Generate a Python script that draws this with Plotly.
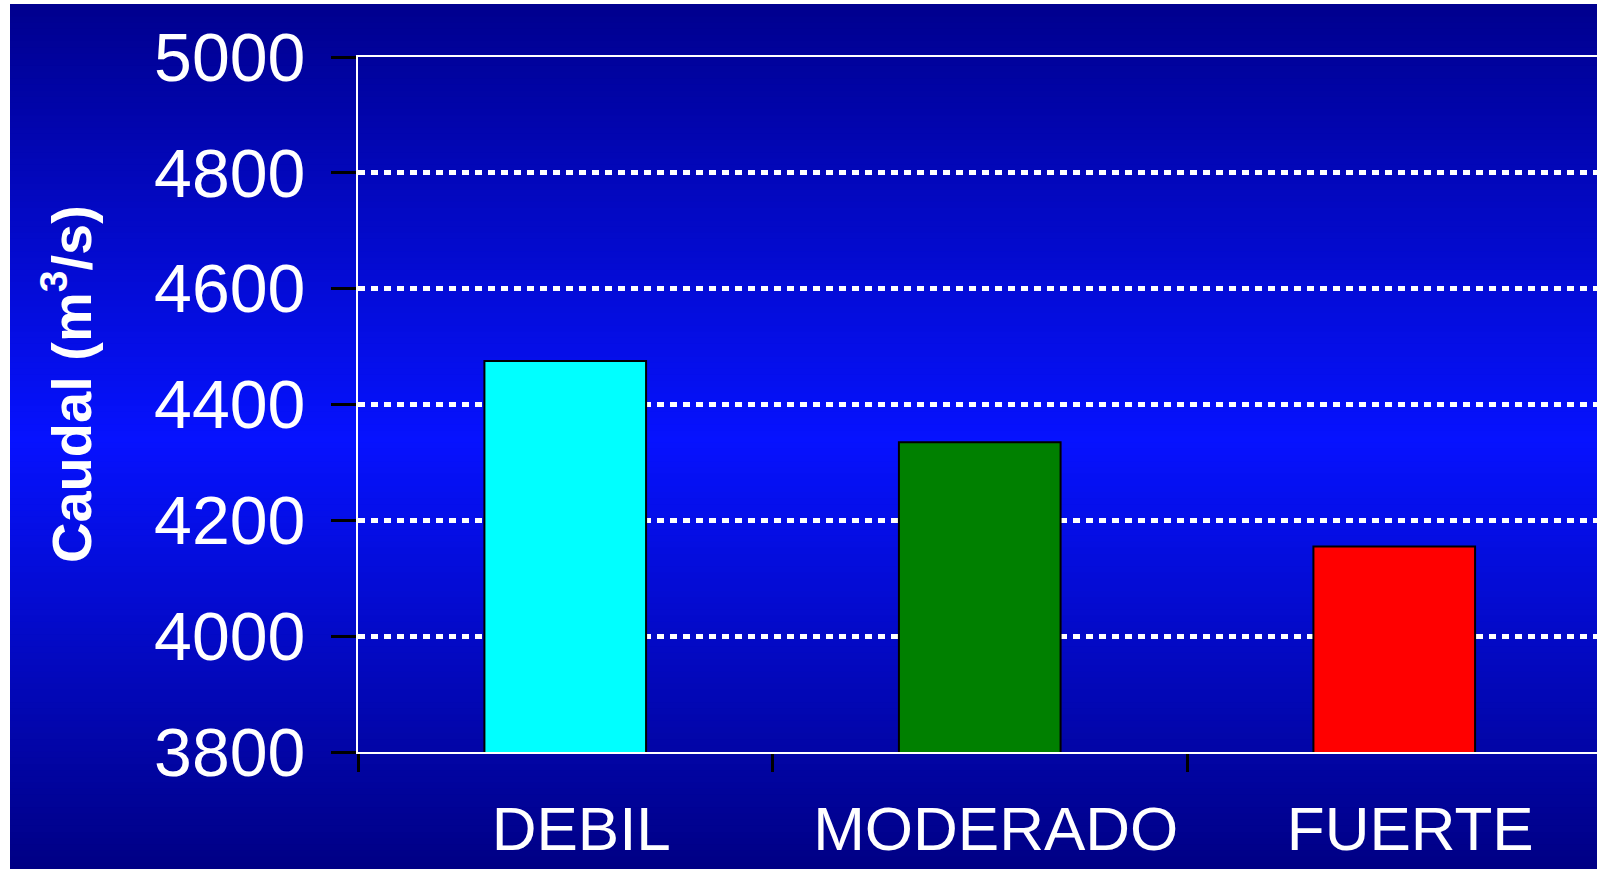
import plotly.graph_objects as go

# ---- data ----
categories = ["DEBIL", "MODERADO", "FUERTE"]
caudal = [4475, 4335, 4155]
bar_colors = ["#00FFFF", "#008000", "#FF0000"]
y_ticks = [3800, 4000, 4200, 4400, 4600, 4800, 5000]
y_title = "Caudal (m<sup>3</sup>/s)"

W, H = 1597, 869
L, R, T, B = 358, 0, 57, 117
PW, PH = W - L - R, H - T - B
FONT = "Arial, Liberation Sans, sans-serif"


def px2x(px):
    return (px - L) / PW


def px2y(py):
    return (H - B - py) / PH


def lerp(a, b, t):
    return tuple(round(a[i] + (b[i] - a[i]) * t) for i in range(3))


c_top, c_mid, c_bot = (0, 0, 142), (6, 18, 255), (0, 0, 132)
top_px, mid_px, bot_px = 4, 440, 869

shapes = []
n = 140
for i in range(n):
    y0 = top_px + (bot_px - top_px) * i / n
    y1 = top_px + (bot_px - top_px) * (i + 1) / n
    yc = (y0 + y1) / 2
    if yc < mid_px:
        col = lerp(c_top, c_mid, (yc - top_px) / (mid_px - top_px))
    else:
        col = lerp(c_mid, c_bot, (yc - mid_px) / (bot_px - mid_px))
    # each strip runs to the bottom so later strips cover without seams
    shapes.append(dict(
        type="rect", xref="paper", yref="paper", layer="below",
        x0=px2x(10), x1=px2x(W + 2), y0=px2y(bot_px + 2), y1=px2y(y0),
        fillcolor="rgb(%d,%d,%d)" % col, line=dict(width=0),
    ))

fig = go.Figure()
fig.add_trace(go.Bar(
    x=categories, y=caudal,
    marker=dict(color=bar_colors, line=dict(color="black", width=2)),
    width=0.39, showlegend=False,
))

fig.update_layout(
    width=W, height=H,
    margin=dict(l=L, r=R, t=T, b=B, pad=0),
    paper_bgcolor="white",
    plot_bgcolor="rgba(0,0,0,0)",
    font=dict(family=FONT, color="white"),
    shapes=shapes,
    xaxis=dict(
        type="category",
        range=[-0.5, -0.5 + PW / 414.5],
        showline=True, linecolor="white", linewidth=2, mirror=True,
        ticks="outside", tickson="boundaries", ticklen=18, tickwidth=3,
        tickcolor="black",
        tickfont=dict(size=62, color="white", family=FONT),
        ticklabelstandoff=22,
        ticklabelshift=16,
        showgrid=False, zeroline=False,
    ),
    yaxis=dict(
        range=[3800, 5000],
        tickvals=y_ticks,
        showline=True, linecolor="white", linewidth=2, mirror=False,
        ticks="outside", ticklen=25, tickwidth=3, tickcolor="black",
        tickfont=dict(size=68, color="white", family=FONT),
        ticklabelstandoff=12,
        showgrid=True, gridcolor="white", gridwidth=5, griddash="7px,6px",
        zeroline=False,
    ),
    annotations=[dict(
        text="<b>" + y_title + "</b>", xref="paper", yref="paper",
        x=px2x(67), y=px2y(384), xanchor="center", yanchor="middle",
        textangle=-90, showarrow=False,
        font=dict(size=56, color="white", family=FONT),
    )],
)

fig.write_html(
    "out.html",
    config={"displayModeBar": False},
    post_script="document.body.style.margin='0';document.body.style.overflow='hidden';",
)
